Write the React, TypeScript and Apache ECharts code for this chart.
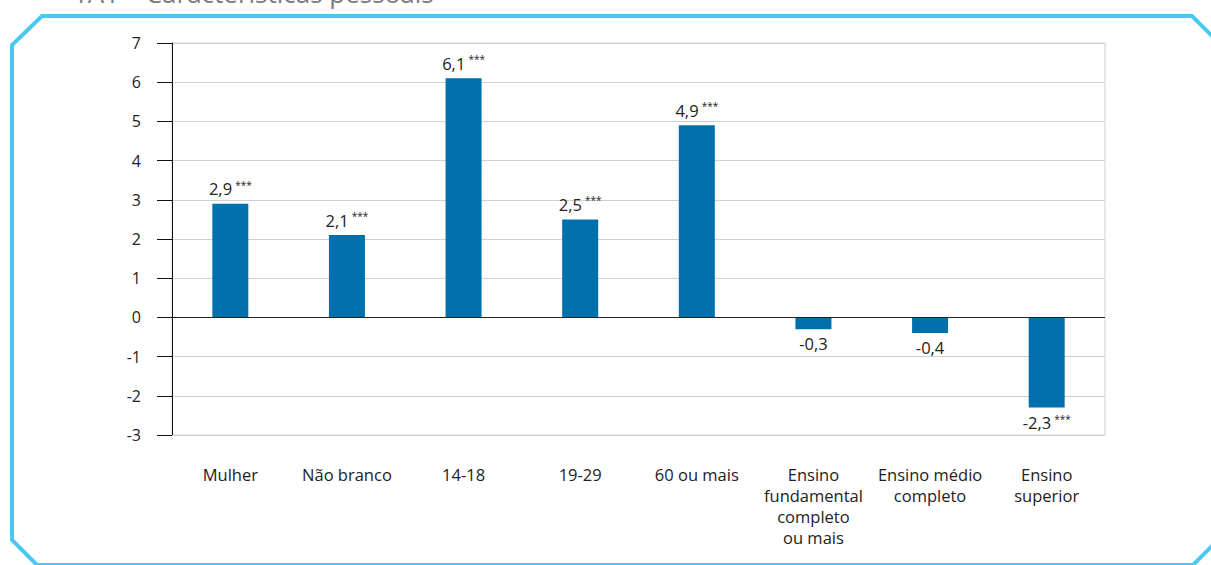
import React, { useEffect, useRef } from "react";
import * as echarts from "echarts";

const categories = [
  "Mulher",
  "Não branco",
  "14-18",
  "19-29",
  "60 ou mais",
  "Ensino\nfundamental\ncompleto\nou mais",
  "Ensino médio\ncompleto",
  "Ensino\nsuperior",
];
const values = [2.9, 2.1, 6.1, 2.5, 4.9, -0.3, -0.4, -2.3];
const significance = ["***", "***", "***", "***", "***", "", "", "***"];
const titleText = "1A1 – Características pessoais";

const BAR = "#0070ad";
const FONT = "'Open Sans', 'Noto Sans', sans-serif";

export default function App() {
  const ref = useRef<HTMLDivElement>(null);
  useEffect(() => {
    if (!ref.current) return;
    const chart = echarts.init(ref.current, undefined, { renderer: "svg" });
    const fmt = (v: number) => v.toFixed(1).replace(".", ",");
    chart.setOption({
      animation: false,
      textStyle: { fontFamily: FONT },
      grid: {
        left: 172,
        right: 106,
        top: 43,
        bottom: 130,
        show: true,
        borderColor: "#d0d0d0",
        borderWidth: 1,
      },
      xAxis: {
        type: "category",
        data: categories,
        axisLine: { onZero: false, lineStyle: { color: "#d0d0d0" } },
        axisTick: { length: 16, lineStyle: { color: "#d0d0d0" } },
        axisLabel: {
          margin: 29,
          fontSize: 16.5,
          color: "#222",
          lineHeight: 21,
          fontFamily: FONT,
          interval: 0,
        },
      },
      yAxis: {
        type: "value",
        min: -3,
        max: 7,
        interval: 1,
        axisLine: { show: true, lineStyle: { color: "#111" } },
        axisTick: { show: true, length: 15, lineStyle: { color: "#111" } },
        axisLabel: { margin: 31, fontSize: 16, color: "#222", fontFamily: FONT },
        splitLine: { lineStyle: { color: "#d0d0d0" } },
      },
      series: [
        {
          type: "bar",
          barWidth: 36,
          itemStyle: { color: BAR },
          data: values.map((v, i) => ({
            value: v,
            label: {
              show: true,
              position: v >= 0 ? "top" : "bottom",
              distance: 6,
              formatter: () =>
                significance[i]
                  ? `{v|${fmt(v)}} {s|${significance[i]}}`
                  : `{v|${fmt(v)}}`,
              rich: {
                v: { fontSize: 16.5, color: "#222", fontFamily: FONT },
                s: {
                  fontSize: 10,
                  color: "#222",
                  fontFamily: FONT,
                  verticalAlign: "top",
                  padding: [0, 0, 8, 0],
                },
              },
            },
          })),
          markLine: {
            silent: true,
            symbol: "none",
            label: { show: false },
            lineStyle: { color: "#222", type: "solid", width: 1.2 },
            data: [{ yAxis: 0 }],
          },
        },
      ],
      graphic: [
        {
          type: "polygon",
          shape: {
            points: [
              [42, 16],
              [1192, 16],
              [1230, 54],
              [1230, 528],
              [1193, 565],
              [37, 565],
              [12, 540],
              [12, 45],
            ],
          },
          style: { fill: "none", stroke: "#48c8f3", lineWidth: 4 },
          silent: true,
        },
        {
          type: "text",
          x: 73,
          y: 6,
          style: {
            text: titleText,
            fontSize: 26,
            fill: "#7a7a7a",
            fontFamily: FONT,
            verticalAlign: "bottom",
          },
          silent: true,
        },
      ],
    });
    return () => chart.dispose();
  }, []);
  return (
    <div
      ref={ref}
      style={{ position: "absolute", left: 0, top: 0, width: 1211, height: 565 }}
    />
  );
}
